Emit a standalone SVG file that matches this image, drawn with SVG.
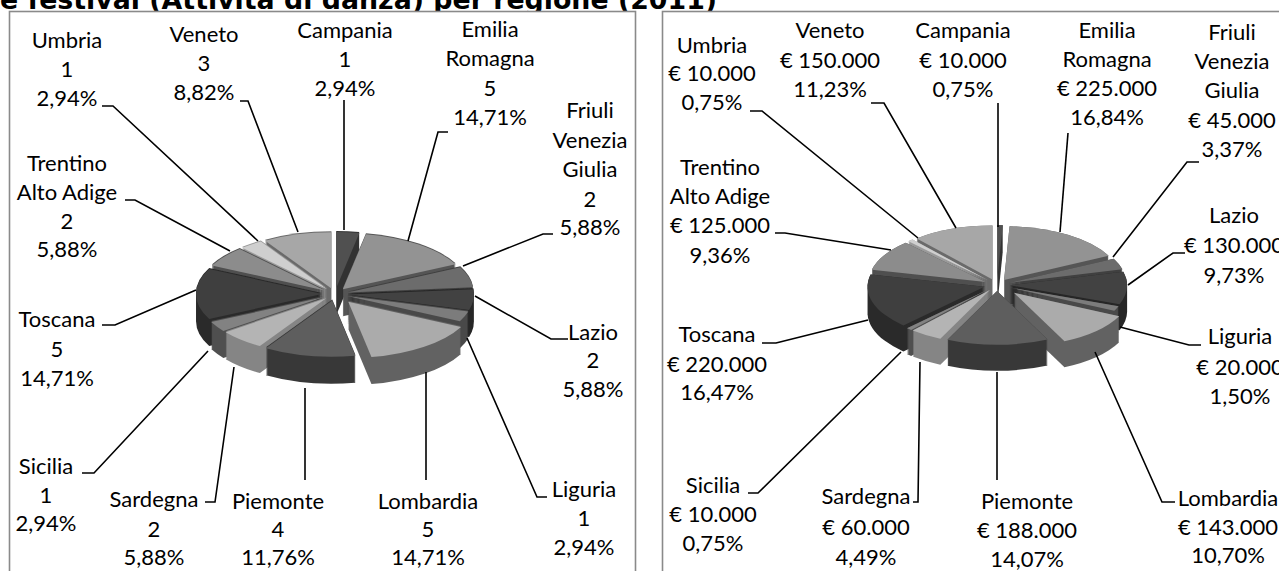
<svg xmlns="http://www.w3.org/2000/svg" width="1279" height="571" viewBox="0 0 1279 571">
<style>
.lbl{font-family:Lato,"Liberation Sans",sans-serif;font-size:22px;fill:#000;text-anchor:middle}
.title{font-family:"DejaVu Sans",Verdana,sans-serif;font-weight:bold;font-size:26.8px;fill:#000}
.frame{fill:#fff;stroke:#8a8a8a;stroke-width:1.6}
.ld{fill:none;stroke:#000;stroke-width:1.6}
.s,.t{stroke:none}
.campania .s{fill:#333}.campania .t{fill:#505050}
.emilia .s{fill:#555}.emilia .t{fill:#939393}
.friuli .s{fill:#404040}.friuli .t{fill:#6c6c6c}
.lazio .s{fill:#262626}.lazio .t{fill:#424242}
.liguria .s{fill:#4a4a4a}.liguria .t{fill:#7c7c7c}
.lombardia .s{fill:#626262}.lombardia .t{fill:#ababab}
.piemonte .s{fill:#383838}.piemonte .t{fill:#5e5e5e}
.sardegna .s{fill:#858585}.sardegna .t{fill:#b4b4b4}
.sicilia .s{fill:#505050}.sicilia .t{fill:#828282}
.toscana .s{fill:#292929}.toscana .t{fill:#3f3f3f}
.trentino .s{fill:#505050}.trentino .t{fill:#8c8c8c}
.umbria .s{fill:#9a9a9a}.umbria .t{fill:#cfcfcf}
.veneto .s{fill:#6a6a6a}.veneto .t{fill:#a7a7a7}
</style>
<defs>
<filter id="exL" filterUnits="userSpaceOnUse" x="0" y="0" width="1279" height="571">
<feMorphology operator="dilate" radius="0 14"/>
<feOffset dy="13"/>
</filter>
<filter id="exR" filterUnits="userSpaceOnUse" x="0" y="0" width="1279" height="571">
<feMorphology operator="dilate" radius="0 13"/>
<feOffset dy="13"/>
</filter>
<path id="lCam" transform="translate(335,294) scale(1,0.446) rotate(5.294)" d="M0,-13L-11.63,-138.46A126,126 0 0 1 11.63,-138.46Z"/>
<path id="lEmi" transform="translate(335,294) scale(1,0.446) rotate(37.059)" d="M0,-13L-56.16,-125.8A126,126 0 0 1 56.16,-125.8Z"/>
<path id="lFri" transform="translate(335,294) scale(1,0.446) rotate(74.118)" d="M0,-13L-23.15,-136.86A126,126 0 0 1 23.15,-136.86Z"/>
<path id="lLaz" transform="translate(335,294) scale(1,0.446) rotate(95.294)" d="M0,-13L-23.15,-136.86A126,126 0 0 1 23.15,-136.86Z"/>
<path id="lLig" transform="translate(335,294) scale(1,0.446) rotate(111.176)" d="M0,-13L-11.63,-138.46A126,126 0 0 1 11.63,-138.46Z"/>
<path id="lLom" transform="translate(335,294) scale(1,0.446) rotate(142.941)" d="M0,-22L-56.16,-134.8A126,126 0 0 1 56.16,-134.8Z"/>
<path id="lPie" transform="translate(335,294) scale(1,0.446) rotate(190.588)" d="M0,-15L-45.51,-132.5A126,126 0 0 1 45.51,-132.5Z"/>
<path id="lSar" transform="translate(335,294) scale(1,0.446) rotate(222.353)" d="M0,-13L-23.15,-136.86A126,126 0 0 1 23.15,-136.86Z"/>
<path id="lSic" transform="translate(335,294) scale(1,0.446) rotate(238.235)" d="M0,-13L-11.63,-138.46A126,126 0 0 1 11.63,-138.46Z"/>
<path id="lTos" transform="translate(335,294) scale(1,0.446) rotate(270)" d="M0,-13L-56.16,-125.8A126,126 0 0 1 56.16,-125.8Z"/>
<path id="lTre" transform="translate(335,294) scale(1,0.446) rotate(307.059)" d="M0,-13L-23.15,-136.86A126,126 0 0 1 23.15,-136.86Z"/>
<path id="lUmb" transform="translate(335,294) scale(1,0.446) rotate(322.941)" d="M0,-13L-11.63,-138.46A126,126 0 0 1 11.63,-138.46Z"/>
<path id="lVen" transform="translate(335,294) scale(1,0.446) rotate(344.118)" d="M0,-13L-34.49,-134.19A126,126 0 0 1 34.49,-134.19Z"/>

<path id="rCam" transform="translate(997,285) scale(1,0.46) rotate(1.347)" d="M0,-13L-2.75,-129.96A117,117 0 0 1 2.75,-129.96Z"/>
<path id="rEmi" transform="translate(997,285) scale(1,0.46) rotate(33.009)" d="M0,-13L-59.06,-114A117,117 0 0 1 59.06,-114Z"/>
<path id="rFri" transform="translate(997,285) scale(1,0.46) rotate(69.386)" d="M0,-13L-12.36,-129.34A117,117 0 0 1 12.36,-129.34Z"/>
<path id="rLaz" transform="translate(997,285) scale(1,0.46) rotate(92.964)" d="M0,-13L-35.21,-124.58A117,117 0 0 1 35.21,-124.58Z"/>
<path id="rLig" transform="translate(997,285) scale(1,0.46) rotate(113.174)" d="M0,-13L-5.5,-129.87A117,117 0 0 1 5.5,-129.87Z"/>
<path id="rLom" transform="translate(997,285) scale(1,0.46) rotate(135.135)" d="M0,-24L-38.61,-134.45A117,117 0 0 1 38.61,-134.45Z"/>
<path id="rPie" transform="translate(997,285) scale(1,0.46) rotate(179.731)" d="M0,-13L-50.05,-118.76A117,117 0 0 1 50.05,-118.76Z"/>
<path id="rSar" transform="translate(997,285) scale(1,0.46) rotate(213.144)" d="M0,-13L-16.45,-128.84A117,117 0 0 1 16.45,-128.84Z"/>
<path id="rSic" transform="translate(997,285) scale(1,0.46) rotate(222.575)" d="M0,-13L-2.75,-129.96A117,117 0 0 1 2.75,-129.96Z"/>
<path id="rTos" transform="translate(997,285) scale(1,0.46) rotate(253.563)" d="M0,-13L-57.86,-114.7A117,117 0 0 1 57.86,-114.7Z"/>
<path id="rTre" transform="translate(997,285) scale(1,0.46) rotate(300.045)" d="M0,-13L-33.89,-124.98A117,117 0 0 1 33.89,-124.98Z"/>
<path id="rUmb" transform="translate(997,285) scale(1,0.46) rotate(318.234)" d="M0,-13L-2.75,-129.96A117,117 0 0 1 2.75,-129.96Z"/>
<path id="rVen" transform="translate(997,285) scale(1,0.46) rotate(339.79)" d="M0,-13L-40.41,-122.79A117,117 0 0 1 40.41,-122.79Z"/>
</defs>

<text class="title" x="0" y="9">e festival (Attività di danza) per regione (2011)</text>

<rect class="frame" x="9.5" y="11.5" width="626" height="600"/>
<rect class="frame" x="662.5" y="11.5" width="650" height="600"/>

<!-- LEFT PIE -->
<g id="left-pie">
<g id="l-campania" class="campania"><use href="#lCam" class="s" filter="url(#exL)"/><use href="#lCam" class="t"/></g>
<g id="l-veneto" class="veneto"><use href="#lVen" class="s" filter="url(#exL)"/><use href="#lVen" class="t"/></g>
<g id="l-emilia" class="emilia"><use href="#lEmi" class="s" filter="url(#exL)"/><use href="#lEmi" class="t"/></g>
<g id="l-umbria" class="umbria"><use href="#lUmb" class="s" filter="url(#exL)"/><use href="#lUmb" class="t"/></g>
<g id="l-trentino" class="trentino"><use href="#lTre" class="s" filter="url(#exL)"/><use href="#lTre" class="t"/></g>
<g id="l-friuli" class="friuli"><use href="#lFri" class="s" filter="url(#exL)"/><use href="#lFri" class="t"/></g>
<g id="l-toscana" class="toscana"><use href="#lTos" class="s" filter="url(#exL)"/><use href="#lTos" class="t"/></g>
<g id="l-lazio" class="lazio"><use href="#lLaz" class="s" filter="url(#exL)"/><use href="#lLaz" class="t"/></g>
<g id="l-liguria" class="liguria"><use href="#lLig" class="s" filter="url(#exL)"/><use href="#lLig" class="t"/></g>
<g id="l-sicilia" class="sicilia"><use href="#lSic" class="s" filter="url(#exL)"/><use href="#lSic" class="t"/></g>
<g id="l-sardegna" class="sardegna"><use href="#lSar" class="s" filter="url(#exL)"/><use href="#lSar" class="t"/></g>
<g id="l-lombardia" class="lombardia"><use href="#lLom" class="s" filter="url(#exL)"/><use href="#lLom" class="t"/></g>
<g id="l-piemonte" class="piemonte"><use href="#lPie" class="s" filter="url(#exL)"/><use href="#lPie" class="t"/></g>
</g>

<!-- RIGHT PIE -->
<g id="right-pie">
<g id="r-campania" class="campania"><use href="#rCam" class="s" filter="url(#exR)"/><use href="#rCam" class="t"/></g>
<g id="r-veneto" class="veneto"><use href="#rVen" class="s" filter="url(#exR)"/><use href="#rVen" class="t"/></g>
<g id="r-emilia" class="emilia"><use href="#rEmi" class="s" filter="url(#exR)"/><use href="#rEmi" class="t"/></g>
<g id="r-umbria" class="umbria"><use href="#rUmb" class="s" filter="url(#exR)"/><use href="#rUmb" class="t"/></g>
<g id="r-trentino" class="trentino"><use href="#rTre" class="s" filter="url(#exR)"/><use href="#rTre" class="t"/></g>
<g id="r-friuli" class="friuli"><use href="#rFri" class="s" filter="url(#exR)"/><use href="#rFri" class="t"/></g>
<g id="r-lazio" class="lazio"><use href="#rLaz" class="s" filter="url(#exR)"/><use href="#rLaz" class="t"/></g>
<g id="r-toscana" class="toscana"><use href="#rTos" class="s" filter="url(#exR)"/><use href="#rTos" class="t"/></g>
<g id="r-liguria" class="liguria"><use href="#rLig" class="s" filter="url(#exR)"/><use href="#rLig" class="t"/></g>
<g id="r-lombardia" class="lombardia"><use href="#rLom" class="s" filter="url(#exR)"/><use href="#rLom" class="t"/></g>
<g id="r-sicilia" class="sicilia"><use href="#rSic" class="s" filter="url(#exR)"/><use href="#rSic" class="t"/></g>
<g id="r-sardegna" class="sardegna"><use href="#rSar" class="s" filter="url(#exR)"/><use href="#rSar" class="t"/></g>
<g id="r-piemonte" class="piemonte"><use href="#rPie" class="s" filter="url(#exR)"/><use href="#rPie" class="t"/></g>
</g>

<!-- CONNECTORS -->
<g id="connectors" class="ld">
<polyline points="102,106 113,106 258,241"/>
<polyline points="240,101 248,101 298,232"/>
<polyline points="344,100 344,230"/>
<polyline points="448,132 438,132 408,241"/>
<polyline points="553,234 543,234 463,266"/>
<polyline points="125,200 135,200 230,251"/>
<polyline points="102,325 115,325 196,290"/>
<polyline points="568,339 551,339 475,296"/>
<polyline points="547,497 537,497 467,338"/>
<polyline points="426,480 426,372"/>
<polyline points="305,480 305,388"/>
<polyline points="205,502 215,502 234,367"/>
<polyline points="82,473 94,473 208,351"/>

<polyline points="750,111 762,111 918,238"/>
<polyline points="871,103 884,103 956,228"/>
<polyline points="998,103 998,227"/>
<polyline points="1068,133 1060,232"/>
<polyline points="1199,162 1187,162 1113,257"/>
<polyline points="775,233 785,233 891,250"/>
<polyline points="1185,253 1173,253 1128,285"/>
<polyline points="1201,345 1189,345 1120,327"/>
<polyline points="1175,502 1162,502 1095,352"/>
<polyline points="997,480 997,372"/>
<polyline points="913,502 918,502 920,362"/>
<polyline points="748,493 758,493 901,352"/>
<polyline points="762,343 776,343 868,320"/>
</g>

<!-- LABELS LEFT -->
<g id="left-labels">
<text id="lt-umbria" class="lbl"><tspan x="67" y="48">Umbria</tspan><tspan x="67" y="77">1</tspan><tspan x="67" y="106">2,94%</tspan></text>
<text id="lt-veneto" class="lbl"><tspan x="204" y="42">Veneto</tspan><tspan x="204" y="71">3</tspan><tspan x="204" y="100">8,82%</tspan></text>
<text id="lt-campania" class="lbl"><tspan x="345" y="38">Campania</tspan><tspan x="345" y="67">1</tspan><tspan x="345" y="96">2,94%</tspan></text>
<text id="lt-emilia" class="lbl"><tspan x="490" y="37">Emilia</tspan><tspan x="490" y="66">Romagna</tspan><tspan x="490" y="96">5</tspan><tspan x="490" y="125">14,71%</tspan></text>
<text id="lt-friuli" class="lbl"><tspan x="590" y="118">Friuli</tspan><tspan x="590" y="148">Venezia</tspan><tspan x="590" y="177">Giulia</tspan><tspan x="590" y="207">2</tspan><tspan x="590" y="235">5,88%</tspan></text>
<text id="lt-trentino" class="lbl"><tspan x="67" y="171">Trentino</tspan><tspan x="67" y="200">Alto Adige</tspan><tspan x="67" y="229">2</tspan><tspan x="67" y="257">5,88%</tspan></text>
<text id="lt-toscana" class="lbl"><tspan x="57" y="327">Toscana</tspan><tspan x="57" y="357">5</tspan><tspan x="57" y="386">14,71%</tspan></text>
<text id="lt-lazio" class="lbl"><tspan x="593" y="340">Lazio</tspan><tspan x="593" y="368">2</tspan><tspan x="593" y="397">5,88%</tspan></text>
<text id="lt-sicilia" class="lbl"><tspan x="46" y="474">Sicilia</tspan><tspan x="46" y="503">1</tspan><tspan x="46" y="531">2,94%</tspan></text>
<text id="lt-sardegna" class="lbl"><tspan x="154" y="507">Sardegna</tspan><tspan x="154" y="537">2</tspan><tspan x="154" y="565">5,88%</tspan></text>
<text id="lt-piemonte" class="lbl"><tspan x="278" y="509">Piemonte</tspan><tspan x="278" y="537">4</tspan><tspan x="278" y="565">11,76%</tspan></text>
<text id="lt-lombardia" class="lbl"><tspan x="428" y="509">Lombardia</tspan><tspan x="428" y="537">5</tspan><tspan x="428" y="565">14,71%</tspan></text>
<text id="lt-liguria" class="lbl"><tspan x="584" y="497">Liguria</tspan><tspan x="584" y="526">1</tspan><tspan x="584" y="555">2,94%</tspan></text>
</g>

<!-- LABELS RIGHT -->
<g id="right-labels">
<text id="rt-umbria" class="lbl"><tspan x="712" y="53">Umbria</tspan><tspan x="712" y="81">€ 10.000</tspan><tspan x="712" y="110">0,75%</tspan></text>
<text id="rt-veneto" class="lbl"><tspan x="830" y="38">Veneto</tspan><tspan x="830" y="68">€ 150.000</tspan><tspan x="830" y="97">11,23%</tspan></text>
<text id="rt-campania" class="lbl"><tspan x="963" y="38">Campania</tspan><tspan x="963" y="68">€ 10.000</tspan><tspan x="963" y="97">0,75%</tspan></text>
<text id="rt-emilia" class="lbl"><tspan x="1107" y="38">Emilia</tspan><tspan x="1107" y="67">Romagna</tspan><tspan x="1107" y="96">€ 225.000</tspan><tspan x="1107" y="125">16,84%</tspan></text>
<text id="rt-friuli" class="lbl"><tspan x="1232" y="40">Friuli</tspan><tspan x="1232" y="69">Venezia</tspan><tspan x="1232" y="98">Giulia</tspan><tspan x="1232" y="128">€ 45.000</tspan><tspan x="1232" y="157">3,37%</tspan></text>
<text id="rt-trentino" class="lbl"><tspan x="720" y="175">Trentino</tspan><tspan x="720" y="204">Alto Adige</tspan><tspan x="720" y="233">€ 125.000</tspan><tspan x="720" y="263">9,36%</tspan></text>
<text id="rt-lazio" class="lbl"><tspan x="1234" y="223">Lazio</tspan><tspan x="1234" y="253">€ 130.000</tspan><tspan x="1234" y="283">9,73%</tspan></text>
<text id="rt-liguria" class="lbl"><tspan x="1240" y="344">Liguria</tspan><tspan x="1240" y="375">€ 20.000</tspan><tspan x="1240" y="404">1,50%</tspan></text>
<text id="rt-toscana" class="lbl"><tspan x="717" y="342">Toscana</tspan><tspan x="717" y="372">€ 220.000</tspan><tspan x="717" y="400">16,47%</tspan></text>
<text id="rt-sicilia" class="lbl"><tspan x="713" y="493">Sicilia</tspan><tspan x="713" y="522">€ 10.000</tspan><tspan x="713" y="551">0,75%</tspan></text>
<text id="rt-sardegna" class="lbl"><tspan x="866" y="504">Sardegna</tspan><tspan x="866" y="535">€ 60.000</tspan><tspan x="866" y="565">4,49%</tspan></text>
<text id="rt-piemonte" class="lbl"><tspan x="1027" y="509">Piemonte</tspan><tspan x="1027" y="538">€ 188.000</tspan><tspan x="1027" y="567">14,07%</tspan></text>
<text id="rt-lombardia" class="lbl"><tspan x="1228" y="506">Lombardia</tspan><tspan x="1228" y="535">€ 143.000</tspan><tspan x="1228" y="563">10,70%</tspan></text>
</g>
</svg>
